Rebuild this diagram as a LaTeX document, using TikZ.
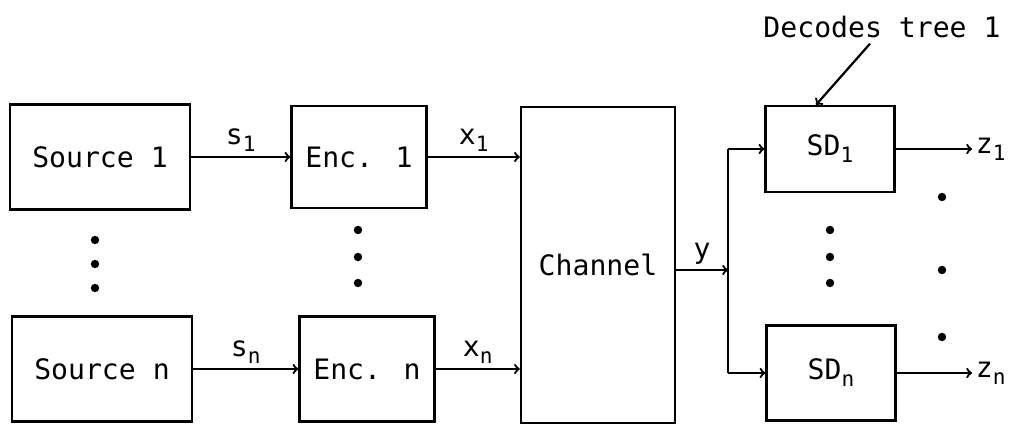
\documentclass[tikz,border=0pt]{standalone}
\usepackage{fontspec}
\setmainfont{DejaVu Sans Mono}
\usetikzlibrary{arrows,positioning}
\newcommand{\lowidx}[1]{\raisebox{-5pt}{\fontsize{15}{15}\selectfont #1}}

\begin{document}
\begin{tikzpicture}[x=0.025cm, y=-0.025cm, line width=1.6pt, >=to, font=\fontsize{20}{24}\selectfont,
    blk/.style={draw, rectangle, inner sep=0pt, align=center},
    lbl/.style={inner sep=2pt}]
    \useasboundingbox (0,0) rectangle (1036,425);
    % Nodes
    \node[blk, minimum width=4.5cm, minimum height=2.625cm] (src1) at (100,157) {Source 1};
    \node[blk, minimum width=4.5cm, minimum height=2.625cm] (srcn) at (102,369) {Source n};
    \node[blk, minimum width=3.375cm, minimum height=2.55cm] (enc1) at (359,157) {Enc. 1};
    \node[blk, minimum width=3.375cm, minimum height=2.625cm] (encn) at (367,369) {Enc. n};
    \node[blk, minimum width=3.85cm, minimum height=7.9cm] (chan) at (598,265) {Channel};
    \node[blk, minimum width=3.225cm, minimum height=2.15cm] (sd1) at (830,149) {SD\lowidx{1}};
    \node[blk, minimum width=3.225cm, minimum height=2.375cm] (sdn) at (831,373) {SD\lowidx{n}};
    \node[lbl, anchor=west] (z1) at (972,149) {z\lowidx{1}};
    \node[lbl, anchor=west] (zn) at (972,373) {z\lowidx{n}};
    \coordinate (bus) at (728,270);

    % Edges
    \draw[->] (src1) -- node[above] {s\lowidx{1}} (enc1);
    \draw[->] (srcn) -- node[above] {s\lowidx{n}} (encn);
    \draw[->] (enc1) -- node[above] {x\lowidx{1}} (enc1 -| chan.west);
    \draw[->] (encn) -- node[above] {x\lowidx{n}} (encn -| chan.west);
    \draw[->] (chan.east |- bus) -- node[above] {y} (bus);
    \draw (bus |- sd1) -- (bus |- sdn);
    \draw[->] (bus |- sd1) -- (sd1);
    \draw[->] (bus |- sdn) -- (sdn);
    \draw[->] (sd1) -- (sd1 -| z1.west);
    \draw[->] (sdn) -- (sdn -| zn.west);

    % Dots
    \foreach \y in {240,264,288} \fill (95,\y) circle (3pt);
    \foreach \y in {230,257,283} {
        \fill (358,\y) circle (3pt);
        \fill (830,\y) circle (3pt);
    }
    \foreach \y in {197,270,337} \fill (942,\y) circle (3pt);

    % Annotations
    \node (dec) at (882,27) {Decodes tree 1};
    \draw[->] ([xshift=-0.3cm]dec.south) -- ([xshift=-0.35cm]sd1.north);
\end{tikzpicture}
\end{document}
